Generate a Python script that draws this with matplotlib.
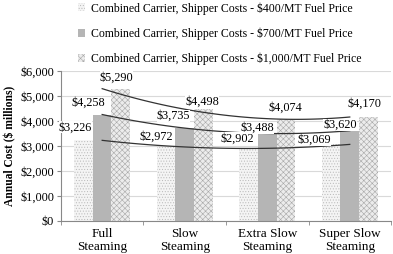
import numpy as np
import matplotlib
matplotlib.use("Agg")
import matplotlib.pyplot as plt

plt.rcParams['font.family'] = ['Liberation Serif', 'DejaVu Serif']
plt.rcParams['hatch.linewidth'] = 0.4

categories = ["Full\nSteaming", "Slow\nSteaming", "Extra Slow\nSteaming", "Super Slow\nSteaming"]
series_names = ["Combined Carrier, Shipper Costs - $400/MT Fuel Price",
                "Combined Carrier, Shipper Costs - $700/MT Fuel Price",
                "Combined Carrier, Shipper Costs - $1,000/MT Fuel Price"]
cost_400 = [3226, 2972, 2902, 3069]
cost_700 = [4258, 3735, 3488, 3620]
cost_1000 = [5290, 4498, 4074, 4170]
y_ticks = [0, 1000, 2000, 3000, 4000, 5000, 6000]

series = [cost_400, cost_700, cost_1000]
faces = ["#f4f4f4", "#b5b5b5", "#ececec"]
hatches = ["......", None, "xxxxxx"]
hatch_cols = ["#b8b8b8", "#b5b5b5", "#a8a8a8"]
# label offsets (points) relative to top-centre of each bar
label_dx = [[-6, -7, -8, -12], [-10, -8, -7, -7], [-3, -1, 0, -3]]
label_dy = [[5, 3, 3, -1], [4, 4, 0, 0], [4, 1, 4, 5]]

fig = plt.figure(figsize=(3.93, 2.54), dpi=100)
ax = fig.add_axes([0.155, 0.13, 0.84, 0.59])

x = np.arange(len(categories))
w = 0.225
for i, vals in enumerate(series):
    bars = ax.bar(x + (i - 1) * w, vals, w, color=faces[i], hatch=hatches[i],
                  edgecolor=hatch_cols[i], linewidth=0, label=series_names[i], zorder=2)
    for j, b in enumerate(bars):
        ax.annotate("${:,}".format(vals[j]), (b.get_x() + b.get_width() / 2, vals[j]),
                    xytext=(label_dx[i][j], label_dy[i][j]), textcoords="offset points",
                    ha="center", va="bottom", fontsize=8.8, zorder=4,
                    bbox=dict(facecolor="white", edgecolor="none", pad=0))

# polynomial (order 2) trendlines
xs = np.linspace(0, 3, 100)
for vals in series:
    p = np.polyfit(x, vals, 2)
    ax.plot(xs, np.polyval(p, xs), color="#333333", lw=0.9, zorder=3)

ax.set_xlim(-0.5, 3.5)
ax.set_ylim(0, 6000)
ax.set_yticks(y_ticks)
ax.set_yticklabels(["${:,}".format(v) for v in y_ticks], fontsize=8.8)
ax.set_xticks(x)
ax.set_xticklabels(categories, fontsize=9.5, linespacing=1.15)
ax.tick_params(axis="x", length=0, pad=5)
ax.set_xticks(np.arange(-0.5, 4, 1), minor=True)
ax.tick_params(axis="x", which="minor", length=3, color="#888888")
ax.tick_params(axis="y", length=3, color="#888888", pad=2)
ax.grid(axis="y", color="#d9d9d9", lw=0.8, zorder=0)
for s in ["top", "right"]:
    ax.spines[s].set_visible(False)
for s in ["left", "bottom"]:
    ax.spines[s].set_color("#888888")
ax.set_ylabel("Annual Cost ($ millions)", fontsize=8.3, fontweight="bold", labelpad=3)

fig.legend(loc="upper left", bbox_to_anchor=(0.18, 1.02), frameon=False, fontsize=8.5,
           handlelength=0.65, handleheight=0.65, handletextpad=0.45, labelspacing=1.1,
           borderaxespad=0.2)

fig.savefig("out.png", dpi=100)
